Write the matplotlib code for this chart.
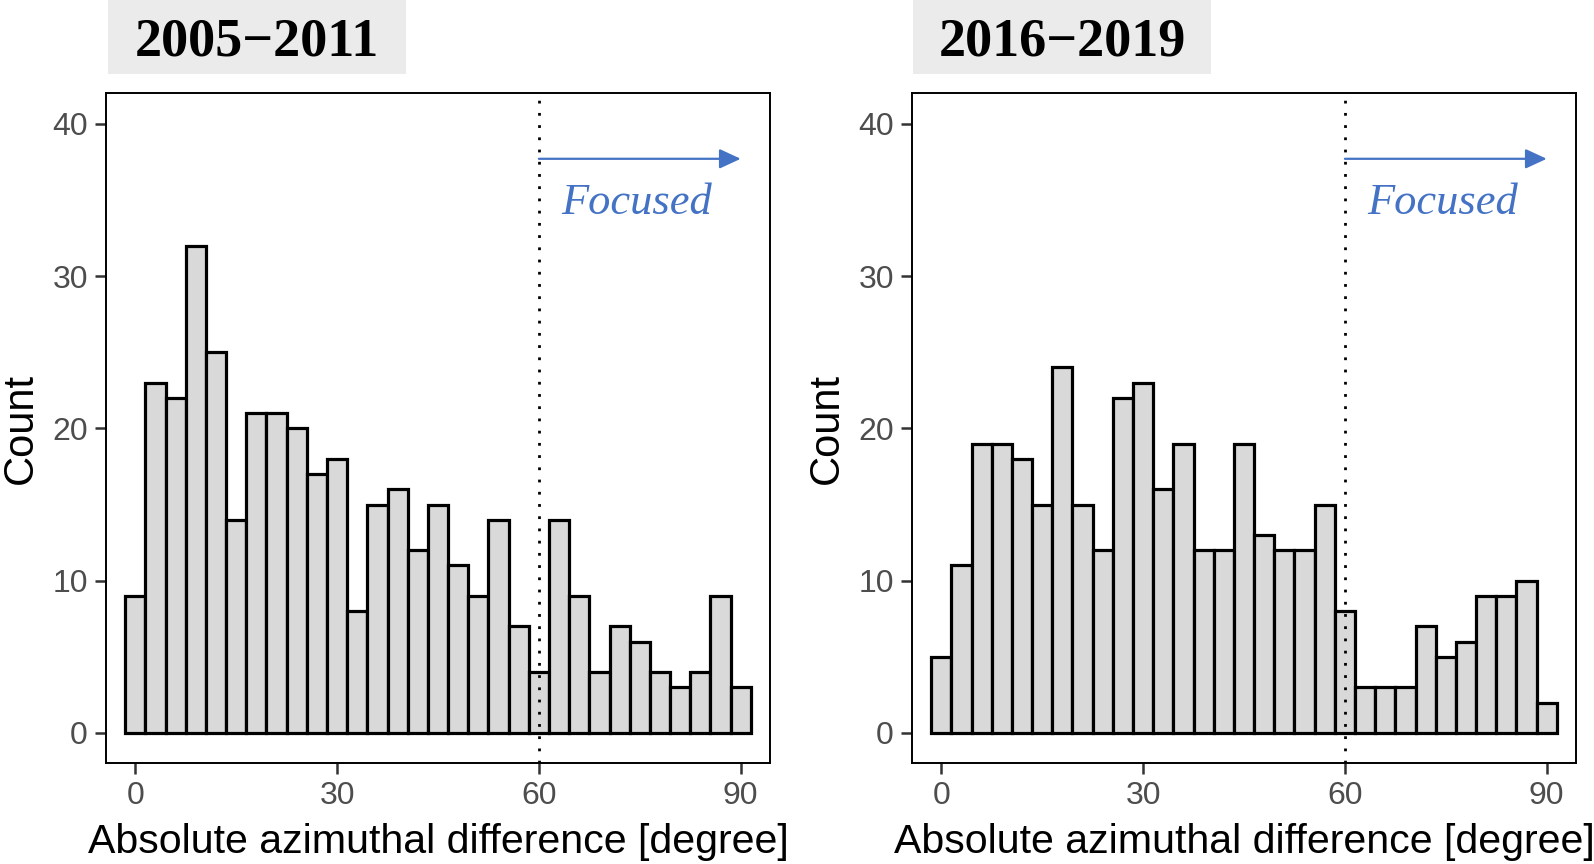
import numpy as np
import matplotlib
matplotlib.use("Agg")
import matplotlib.pyplot as plt

# ---- data ----
bin_width = 3
bin_centers = np.arange(0, 91, bin_width)          # 31 bins, centred at 0,3,...,90
counts_2005_2011 = [9, 23, 22, 32, 25, 14, 21, 21, 20, 17, 18, 8, 15, 16, 12, 15,
                    11, 9, 14, 7, 4, 14, 9, 4, 7, 6, 4, 3, 4, 9, 3]
counts_2016_2019 = [5, 11, 19, 19, 18, 15, 24, 15, 12, 22, 23, 16, 19, 12, 12, 19,
                    13, 12, 12, 15, 8, 3, 3, 3, 7, 5, 6, 9, 9, 10, 2]
panel_titles = ["2005\u22122011", "2016\u22122019"]
x_ticks = [0, 30, 60, 90]
y_ticks = [0, 10, 20, 30, 40]
threshold = 60
arrow_end = 90
arrow_y = 37.7
focus_label = "Focused"
focus_x, focus_y = 74.5, 34.1

W, H = 1594, 864
fig = plt.figure(figsize=(W / 100, H / 100), dpi=100)
fig.patch.set_facecolor("white")

panels = [
    dict(counts=counts_2005_2011, title=panel_titles[0], ax_left=106, strip=(108, 406)),
    dict(counts=counts_2016_2019, title=panel_titles[1], ax_left=912, strip=(913, 1211)),
]
ax_w = 664
ax_top, ax_bot = 93.3, 762.7

for p in panels:
    ax = fig.add_axes([p["ax_left"] / W, 1 - ax_bot / H, ax_w / W, (ax_bot - ax_top) / H])
    ax.bar(bin_centers, p["counts"], width=bin_width, color="#D9D9D9",
           edgecolor="black", linewidth=2.3, zorder=2)
    ax.axvline(threshold, color="black", linewidth=2.0, linestyle=(0, (1, 3.4)), zorder=3)
    ax.annotate("", xy=(arrow_end, arrow_y), xytext=(threshold, arrow_y),
                arrowprops=dict(arrowstyle="-|>,head_length=1.3,head_width=0.6",
                                color="#4472C4", lw=1.6, shrinkA=0, shrinkB=0), zorder=4)
    ax.text(focus_x, focus_y, focus_label, color="#4472C4", fontsize=32,
            fontstyle="italic", family="Liberation Serif", ha="center", va="baseline")
    ax.set_xlim(-4.35, 94.35)
    ax.set_ylim(-1.95, 42)
    ax.set_xticks(x_ticks)
    ax.set_yticks(y_ticks)
    ax.tick_params(axis="both", length=8, width=1.8, color="#333333",
                   labelsize=23, labelcolor="#4D4D4D", pad=5)
    for lab in ax.get_xticklabels() + ax.get_yticklabels():
        lab.set_family("Liberation Sans")
    for s in ax.spines.values():
        s.set_linewidth(1.4)
        s.set_color("black")
    ax.set_xlabel("Absolute azimuthal difference [degree]", fontsize=29.6,
                  family="Liberation Sans", labelpad=9)
    ax.set_ylabel("Count", fontsize=30, family="Liberation Sans", labelpad=8)

    # strip label box
    x0, x1 = p["strip"]
    fig.patches.append(plt.Rectangle((x0 / W, 1 - 74.3 / H), (x1 - x0) / W, 74.3 / H,
                                     transform=fig.transFigure, facecolor="#EBEBEB",
                                     edgecolor="none", zorder=0))
    fig.text((x0 + x1) / 2 / W, 1 - 43 / H, p["title"], fontsize=39, fontweight="bold",
             family="Liberation Serif", ha="center", va="center")

fig.savefig("out.png", dpi=100)
